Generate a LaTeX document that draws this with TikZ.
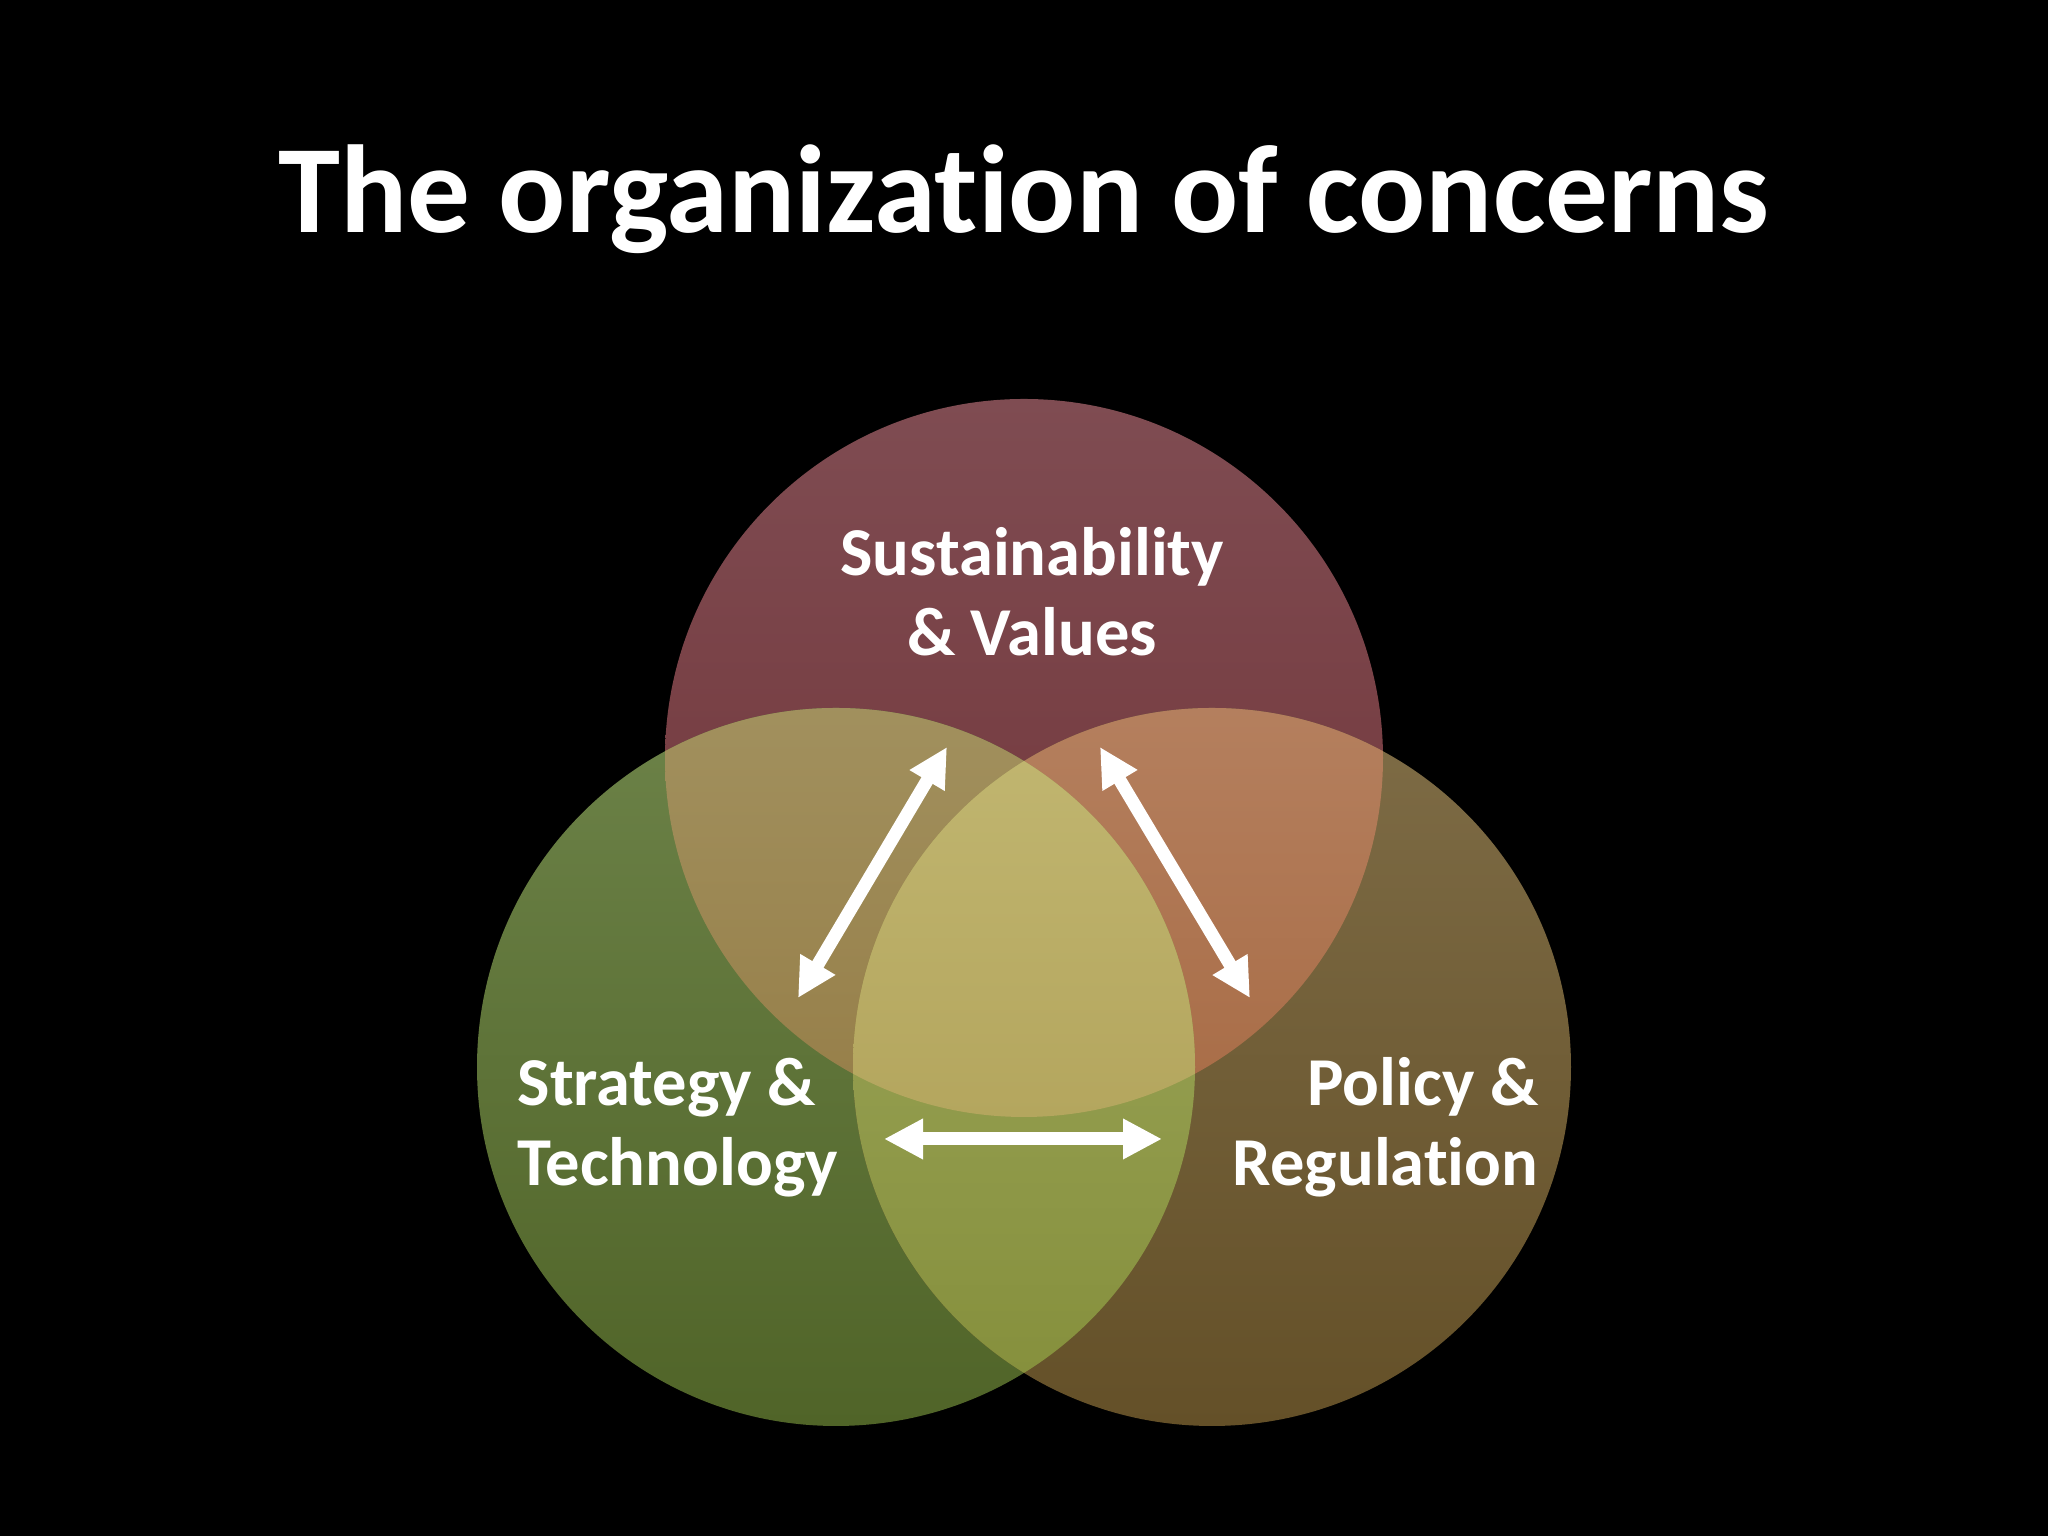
\documentclass[tikz,border=0pt]{standalone}
\usepackage{fontspec}
\setmainfont[Ligatures=NoCommon]{Carlito}
\usetikzlibrary{arrows.meta, positioning}

\begin{document}
\begin{tikzpicture}[
     lab/.style = {text=white, inner sep=0pt,
                   font=\bfseries\fontsize{19.5}{23}\selectfont},
   title/.style = {text=white, inner sep=0pt,
                   font=\bfseries\fontsize{35.6}{40}\selectfont},
    link/.style = {draw=white, line width=3.7pt,
                   {Triangle[length=3.9mm,width=3.8mm]}-{Triangle[length=3.9mm,width=3.8mm]}}
                        ]
\def\vr{3.59}
% background
\fill[black] (0,0) rectangle (20.48,15.36);
% circle centres
\coordinate (csv) at (10.24,7.78);
\coordinate (cst) at (8.36,4.69);
\coordinate (cpr) at (12.12,4.69);
% circles
\shade[top color={rgb,255:red,127;green,76;blue,82}, bottom color={rgb,255:red,112;green,50;blue,54}] (csv) circle (\vr);
\shade[top color={rgb,255:red,108;green,130;blue,72}, bottom color={rgb,255:red,80;green,100;blue,40}] (cst) circle (\vr);
\shade[top color={rgb,255:red,126;green,108;blue,70}, bottom color={rgb,255:red,100;green,80;blue,40}] (cpr) circle (\vr);
% overlaps
\begin{scope}
\clip (cst) circle (\vr);
\shade[top color={rgb,255:red,170;green,158;blue,110}, bottom color={rgb,255:red,150;green,126;blue,72}] (csv) circle (\vr);
\end{scope}
\begin{scope}
\clip (cpr) circle (\vr);
\shade[top color={rgb,255:red,190;green,142;blue,112}, bottom color={rgb,255:red,168;green,108;blue,70}] (csv) circle (\vr);
\end{scope}
\begin{scope}
\clip (cst) circle (\vr);
\shade[top color={rgb,255:red,160;green,170;blue,96}, bottom color={rgb,255:red,132;green,142;blue,58}] (cpr) circle (\vr);
\end{scope}
\begin{scope}
\clip (cst) circle (\vr);
\clip (cpr) circle (\vr);
\shade[top color={rgb,255:red,204;green,196;blue,128}, bottom color={rgb,255:red,180;green,166;blue,94}] (csv) circle (\vr);
\end{scope}
% texts
\node (head) [title, anchor=base] at (10.24,13.03) {The organization of concerns};
\node (sv) [lab, anchor=base, align=center] at (10.32,8.80) {Sustainability\\ \& Values};
\node (st) [lab, anchor=base west, align=left] at (5.17,3.50) {Strategy \&\\Technology};
\node (pr) [lab, anchor=base east, align=right] at (15.39,3.50) {Policy \&\\Regulation};
% arrows
\coordinate (a1) at (9.47,7.89);
\coordinate (a2) at (7.98,5.38);
\coordinate (b1) at (11.00,7.89);
\coordinate (b2) at (12.50,5.38);
\coordinate (c1) at (8.84,3.97);
\coordinate (c2) at (11.62,3.97);
\draw[link] (a1) -- (a2);
\draw[link] (b1) -- (b2);
\draw[link] (c1) -- (c2);
\end{tikzpicture}
\end{document}
